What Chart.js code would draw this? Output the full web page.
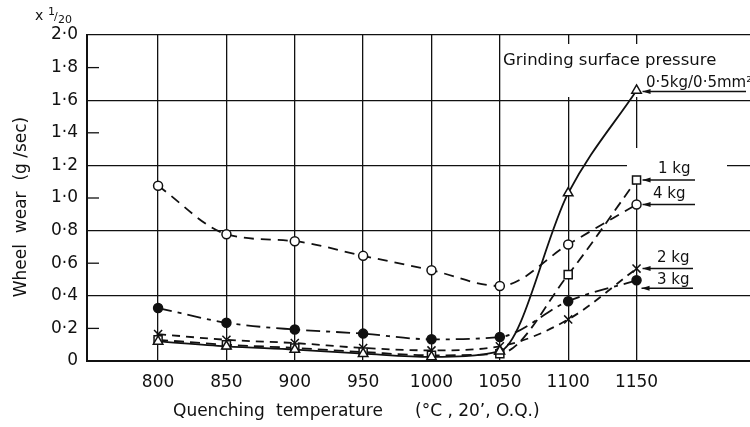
<!DOCTYPE html>
<html>
<head>
<meta charset="utf-8">
<script src="https://cdn.jsdelivr.net/npm/chart.js@4.4.1/dist/chart.umd.min.js"></script>
<style>
  html, body { margin: 0; padding: 0; background: #ffffff; }
  canvas { display: block; }
</style>
</head>
<body>
<canvas id="c" width="750" height="427"></canvas>
<script>
// ---- data ----
const TEMPERATURES = [800, 850, 900, 950, 1000, 1050, 1100, 1150];
const WEAR_05KG = [0.12, 0.09, 0.07, 0.045, 0.025, 0.06, 1.03, 1.66];
const WEAR_1KG  = [0.13, 0.10, 0.08, 0.055, 0.035, 0.045, 0.53, 1.11];
const WEAR_2KG  = [0.165, 0.13, 0.11, 0.08, 0.065, 0.09, 0.255, 0.567];
const WEAR_3KG  = [0.325, 0.235, 0.193, 0.168, 0.133, 0.147, 0.367, 0.495];
const WEAR_4KG  = [1.075, 0.778, 0.735, 0.645, 0.557, 0.46, 0.715, 0.96];
const SERIES_NAMES = ['0·5kg/0·5mm²', '1 kg', '2 kg', '3 kg', '4 kg'];
const X_TICKS = [800, 850, 900, 950, 1000, 1050, 1100, 1150];
const Y_TICKS = [0, 0.2, 0.4, 0.6, 0.8, 1.0, 1.2, 1.4, 1.6, 1.8, 2.0];
const Y_LABELS = ['0', '0·2', '0·4', '0·6', '0·8', '1·0', '1·2', '1·4', '1·6', '1·8', '2·0'];

const pts = arr => TEMPERATURES.map((t, i) => ({ x: t, y: arr[i] }));
const INK = '#111';
const FONT = 'DejaVu Sans';

function ds(label, arr, style, radius, fill, dash) {
  return {
    label, data: pts(arr),
    borderColor: INK, borderWidth: 1.8, borderDash: dash,
    pointStyle: style, pointRadius: radius, pointBorderWidth: 1.5,
    pointBorderColor: INK, pointBackgroundColor: fill,
    cubicInterpolationMode: 'monotone', fill: false
  };
}

const datasets = [
  ds(SERIES_NAMES[0], WEAR_05KG, 'triangle', 5.5, '#fff', []),
  ds(SERIES_NAMES[1], WEAR_1KG, 'rect', 5.7, '#fff', [10, 6]),
  ds(SERIES_NAMES[2], WEAR_2KG, 'crossRot', 5.7, '#fff', [8, 6]),
  ds(SERIES_NAMES[3], WEAR_3KG, 'circle', 4.5, INK, [14, 6, 4, 6]),
  ds(SERIES_NAMES[4], WEAR_4KG, 'circle', 4.5, '#fff', [10, 7])
];

function arrowLine(ctx, x1, x2, y) {
  ctx.beginPath();
  ctx.moveTo(x1, y); ctx.lineTo(x2, y);
  ctx.stroke();
  ctx.beginPath();
  ctx.moveTo(x1, y); ctx.lineTo(x1 + 8, y - 2.5); ctx.lineTo(x1 + 8, y + 2.5);
  ctx.closePath(); ctx.fill();
}

const decor = {
  id: 'decor',
  beforeDraw(chart) {
    const c = chart.ctx;
    c.save(); c.fillStyle = '#fff';
    c.fillRect(0, 0, chart.width, chart.height);
    c.restore();
  },
  beforeDatasetsDraw(chart) {
    const c = chart.ctx, a = chart.chartArea, y = chart.scales.y;
    c.save();
    // inner short ticks on minor values
    c.strokeStyle = INK; c.lineWidth = 1.3;
    Y_TICKS.forEach((v, i) => {
      if (i % 2 === 1) {
        const py = y.getPixelForValue(v);
        c.beginPath(); c.moveTo(a.left, py); c.lineTo(a.left + 12, py); c.stroke();
      }
    });
    // gaps in the grid behind the lettering
    c.fillStyle = '#fff';
    c.fillRect(503, 44, 247, 53);
    c.fillRect(627, 148, 100, 28);
    c.restore();
  },
  afterDatasetsDraw(chart) {
    const c = chart.ctx;
    c.save();
    c.fillStyle = INK; c.strokeStyle = INK; c.lineWidth = 1.5;
    const last = i => chart.getDatasetMeta(i).data[TEMPERATURES.length - 1];
    const p0 = last(0), p1 = last(1), p2 = last(2), p3 = last(3), p4 = last(4);
    arrowLine(c, p0.x + 6, 746, p0.y + 1);
    arrowLine(c, p1.x + 6, 695, p1.y);
    arrowLine(c, p4.x + 6, 695, p4.y);
    arrowLine(c, p2.x + 6, 693, p2.y);
    arrowLine(c, p3.x + 5, 693, p3.y + 8);

    c.textAlign = 'left'; c.textBaseline = 'alphabetic';
    c.font = `16.5px "${FONT}"`;
    c.fillText('Grinding surface pressure', 503, 65);
    c.font = `15px "${FONT}"`;
    c.fillText(SERIES_NAMES[0], 646, 87);
    c.fillText(SERIES_NAMES[1], 658, 173);
    c.fillText(SERIES_NAMES[4], 653, 198);
    c.fillText(SERIES_NAMES[2], 657, 262);
    c.fillText(SERIES_NAMES[3], 657, 284);

    // axis titles
    c.font = `17px "${FONT}"`;
    c.fillText('Quenching', 173, 416);
    c.fillText('temperature', 276, 416);
    c.fillText('(°C , 20\u02BC, O.Q.)', 415, 416);

    c.save();
    c.translate(26, 207);
    c.rotate(-Math.PI / 2);
    c.textAlign = 'center';
    c.fillText('Wheel  wear  (g /sec)', 0, 0);
    c.restore();

    // scale factor note
    c.font = `14px "${FONT}"`;
    c.fillText('x', 35, 20);
    c.font = `11px "${FONT}"`;
    c.fillText('1', 48, 15);
    c.fillText('/', 54, 20);
    c.fillText('20', 58, 23);
    c.restore();
  }
};

new Chart(document.getElementById('c'), {
  type: 'line',
  data: { datasets },
  options: {
    responsive: false, animation: false, devicePixelRatio: 1,
    layout: { autoPadding: false, padding: { top: 35, left: 0, right: 0, bottom: 0 } },
    plugins: { legend: { display: false }, tooltip: { enabled: false } },
    scales: {
      x: {
        type: 'linear', min: 748, max: 1233,
        afterBuildTicks: s => { s.ticks = X_TICKS.map(v => ({ value: v })); },
        afterFit: s => { s.height = 66; s.paddingLeft = 0; s.paddingRight = 0; },
        grid: { color: INK, lineWidth: 1.3, drawTicks: false },
        border: { color: INK, width: 2 },
        ticks: { padding: 11, color: INK, autoSkip: false, maxRotation: 0,
                 font: { family: FONT, size: 17 }, callback: v => String(v) }
      },
      y: {
        min: 0, max: 2,
        afterBuildTicks: s => { s.ticks = Y_TICKS.map(v => ({ value: v })); },
        afterFit: s => { s.width = 87; s.paddingTop = 0; s.paddingBottom = 0; },
        grid: { drawTicks: false, lineWidth: 1.3,
                color: ctx => (ctx.index % 2 === 0 && ctx.index > 0) ? INK : 'rgba(0,0,0,0)' },
        border: { color: INK, width: 2 },
        ticks: { padding: 9, color: INK, autoSkip: false,
                 font: { family: FONT, size: 17 }, callback: (v, i) => Y_LABELS[i] }
      }
    }
  },
  plugins: [decor]
});
</script>
</body>
</html>
